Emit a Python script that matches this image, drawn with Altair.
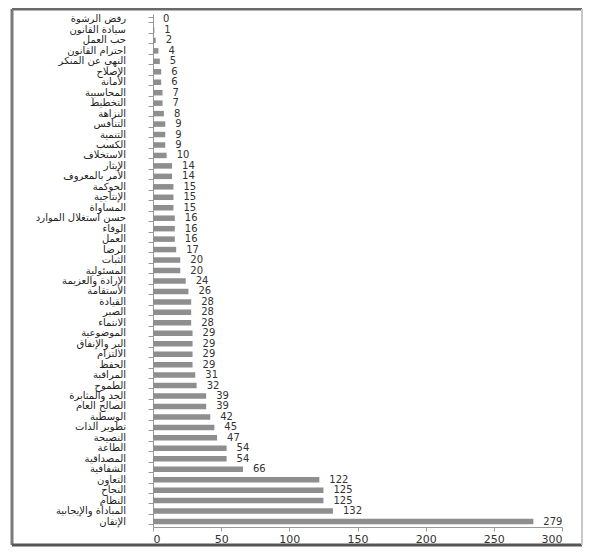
import altair as alt
import pandas as pd

categories = [
    "رفض الرشوة", "سيادة القانون", "حب العمل", "احترام القانون", "النهي عن المنكر",
    "الإصلاح", "الأمانة", "المحاسبية", "التخطيط", "النزاهة", "التنافس", "التنمية",
    "الكسب", "الاستخلاف", "الإيثار", "الأمر بالمعروف", "الحوكمة", "الإنتاجية",
    "المساواة", "حسن استغلال الموارد", "الوفاء", "العمل", "الرضا", "الثبات",
    "المسئولية", "الإرادة والعزيمة", "الاستقامة", "القيادة", "الصبر", "الانتماء",
    "الموضوعية", "البر والإنفاق", "الالتزام", "الحفظ", "المراقبة", "الطموح",
    "الجد والمثابرة", "الصالح العام", "الوسطية", "تطوير الذات", "النصيحة",
    "الطاعة", "المصداقية", "الشفافية", "التعاون", "النجاح", "النظام",
    "المبادأة والإيجابية", "الإتقان",
]
values = [
    0, 1, 2, 4, 5, 6, 6, 7, 7, 8, 9, 9, 9, 10, 14, 14, 15, 15, 15, 16, 16, 16, 17,
    20, 20, 24, 26, 28, 28, 28, 29, 29, 29, 29, 31, 32, 39, 39, 42, 45, 47, 54, 54,
    66, 122, 125, 125, 132, 279,
]
x_ticks = [0, 50, 100, 150, 200, 250, 300]

df = pd.DataFrame({"cat": categories, "val": values})

W, H = 409, 513

base = alt.Chart(df).encode(
    y=alt.Y(
        "cat:N",
        sort=None,
        title=None,
        scale=alt.Scale(paddingInner=0.45, paddingOuter=0.25),
        axis=alt.Axis(
            labels=False,
            tickSize=5,
            tickBand="extent",
            tickColor="#999999",
            domainColor="#999999",
            grid=False,
        ),
    ),
    x=alt.X(
        "val:Q",
        title=None,
        scale=alt.Scale(domain=[0, 300], nice=False),
        axis=alt.Axis(
            values=x_ticks,
            labelFont="DejaVu Sans",
            labelFontSize=11,
            labelColor="#333333",
            labelPadding=2,
            tickSize=4,
            tickColor="#999999",
            domainColor="#999999",
            grid=False,
        ),
    ),
)

bars = base.mark_bar(color="#8e8e8e", size=5.5)
labels = base.mark_text(
    align="left", baseline="middle", dx=10, font="DejaVu Sans", fontSize=10, color="#333333"
).encode(text="val:Q")

cat_labels = alt.Chart(df).mark_text(
    align="right", baseline="middle", font="DejaVu Sans", fontSize=10, color="#222222"
).encode(
    y=alt.Y("cat:N", sort=None),
    x=alt.value(-27),
    text="cat:N",
)

frame_data = alt.Data(values=[{"k": 1}])
top = alt.Chart(frame_data).mark_rule(color="#6a6a6a", strokeWidth=3).encode(
    x=alt.value(-141), x2=alt.value(W + 20), y=alt.value(-5)
)
left = alt.Chart(frame_data).mark_rule(color="#7a7a7a", strokeWidth=3).encode(
    x=alt.value(-141), y=alt.value(-5), y2=alt.value(H + 18)
)
bottom = alt.Chart(frame_data).mark_rule(color="#555555", strokeWidth=3).encode(
    x=alt.value(-141), x2=alt.value(W + 20), y=alt.value(H + 18)
)
right = alt.Chart(frame_data).mark_rule(color="#c8c8c8", strokeWidth=2).encode(
    x=alt.value(W + 20), y=alt.value(-5), y2=alt.value(H + 18)
)

chart = alt.layer(bars, labels, cat_labels, top, left, bottom, right).properties(
    width=W,
    height=H,
    autosize=alt.AutoSizeParams(type="none"),
    padding={"left": 145, "top": 6, "right": 22, "bottom": 20},
    background="white",
).configure_view(stroke=None)

chart.save("out.html", embed_options={"renderer": "svg", "actions": False})
